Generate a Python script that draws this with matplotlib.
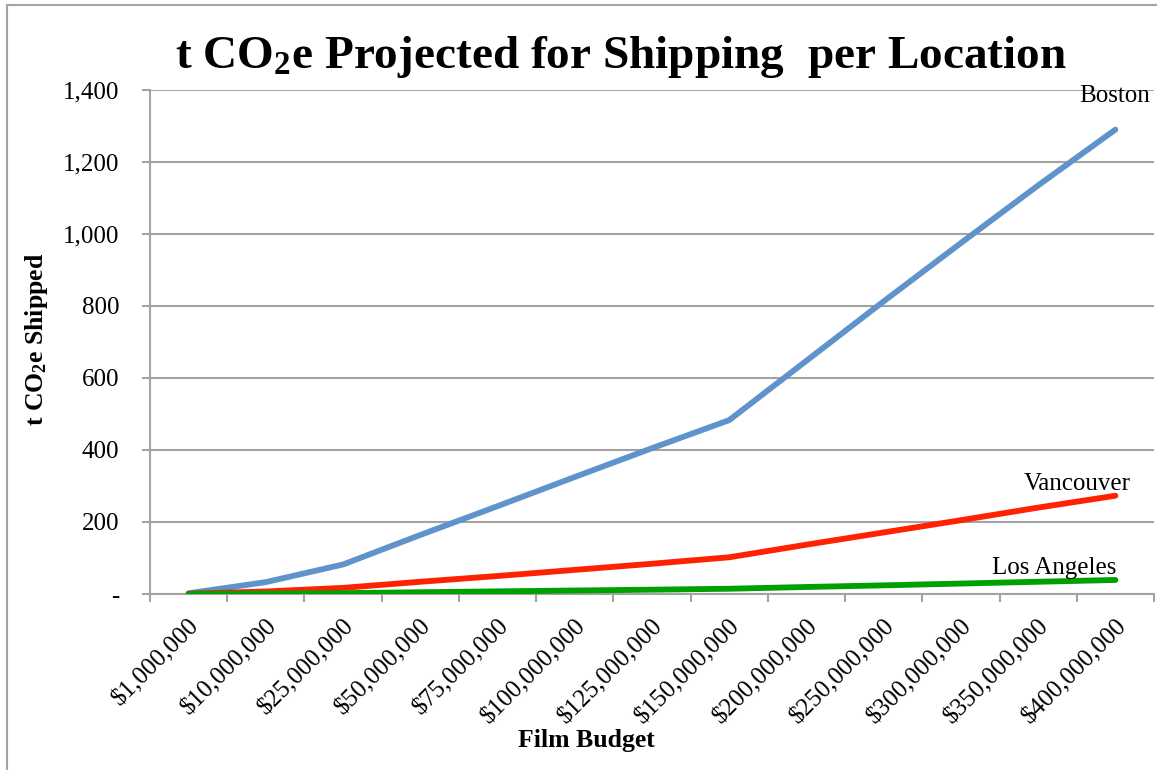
import matplotlib
matplotlib.use("Agg")
import matplotlib.pyplot as plt
from matplotlib.patches import Rectangle
from matplotlib.ticker import FuncFormatter

plt.rcParams['font.family'] = ['Liberation Serif', 'DejaVu Serif']
plt.rcParams['mathtext.default'] = 'regular'

budgets = ["$1,000,000", "$10,000,000", "$25,000,000", "$50,000,000", "$75,000,000",
           "$100,000,000", "$125,000,000", "$150,000,000", "$200,000,000", "$250,000,000",
           "$300,000,000", "$350,000,000", "$400,000,000"]
boston = [2, 33, 82, 164, 244, 325, 405, 483, 648, 813, 975, 1135, 1290]
vancouver = [1, 7, 17, 34, 50, 67, 84, 102, 137, 171, 205, 240, 273]
los_angeles = [0.1, 1, 2.4, 4.9, 7.3, 9.7, 12, 14.6, 19.5, 24, 29, 34, 39]
series_names = ["Boston", "Vancouver", "Los Angeles"]
yticks = [0, 200, 400, 600, 800, 1000, 1200, 1400]

colors = ["#5E93CB", "#FF2200", "#00A000"]

W, H = 1157, 770
fig = plt.figure(figsize=(W / 100, H / 100), dpi=100)
ax = fig.add_axes([150 / W, 1 - 594 / H, (1154 - 150) / W, (594 - 90) / H])

x = list(range(len(budgets)))
for vals, c in zip([boston, vancouver, los_angeles], colors):
    ax.plot(x, vals, color=c, lw=4.2, solid_capstyle='round', solid_joinstyle='round', zorder=3)

ax.set_xlim(-0.5, len(budgets) - 0.5)
ax.set_ylim(0, 1400)
ax.set_yticks(yticks)
ax.yaxis.set_major_formatter(FuncFormatter(lambda v, p: "-" if v == 0 else f"{int(v):,}"))
ax.grid(axis='y', color='#A3A3A3', lw=1.5, zorder=1)
ax.set_axisbelow(True)

ax.set_xticks(x)
ax.set_xticklabels(budgets, rotation=45, ha='right', rotation_mode='anchor', fontsize=18)
ax.set_xticks([i - 0.5 for i in range(len(budgets) + 1)], minor=True)
ax.tick_params(axis='x', which='major', length=0, pad=15)
ax.tick_params(axis='x', which='minor', length=6, width=1.5, color='#A3A3A3', direction='out')
ax.tick_params(axis='y', length=6, width=1.5, color='#A3A3A3', labelsize=18, pad=16)

for s in ['top', 'right']:
    ax.spines[s].set_visible(False)
for s in ['left', 'bottom']:
    ax.spines[s].set_color('#A3A3A3')
    ax.spines[s].set_linewidth(1.5)

# series labels
ax.text(12.45, 1383, series_names[0], ha='right', va='center', fontsize=18)
ax.text(12.2, 305, series_names[1], ha='right', va='center', fontsize=18)
ax.text(12.01, 72, series_names[2], ha='right', va='center', fontsize=18)

fig.text(621 / W, 1 - 57 / H, "t CO$_2$e Projected for Shipping  per Location",
         ha='center', va='center', fontsize=34, fontweight='bold')
fig.text(37 / W, 1 - 339 / H, "t CO$_2$e Shipped", rotation=90, ha='center', va='center',
         fontsize=18.5, fontweight='bold')
fig.text(586 / W, 1 - 741 / H, "Film Budget", ha='center', va='center',
         fontsize=18.5, fontweight='bold')

fig.patches.append(Rectangle((7 / W, -0.01), 1.05, 1 - 5 / H + 0.01, transform=fig.transFigure,
                             fill=False, edgecolor='#A3A3A3', lw=1.5))

fig.savefig("out.png", dpi=100)
